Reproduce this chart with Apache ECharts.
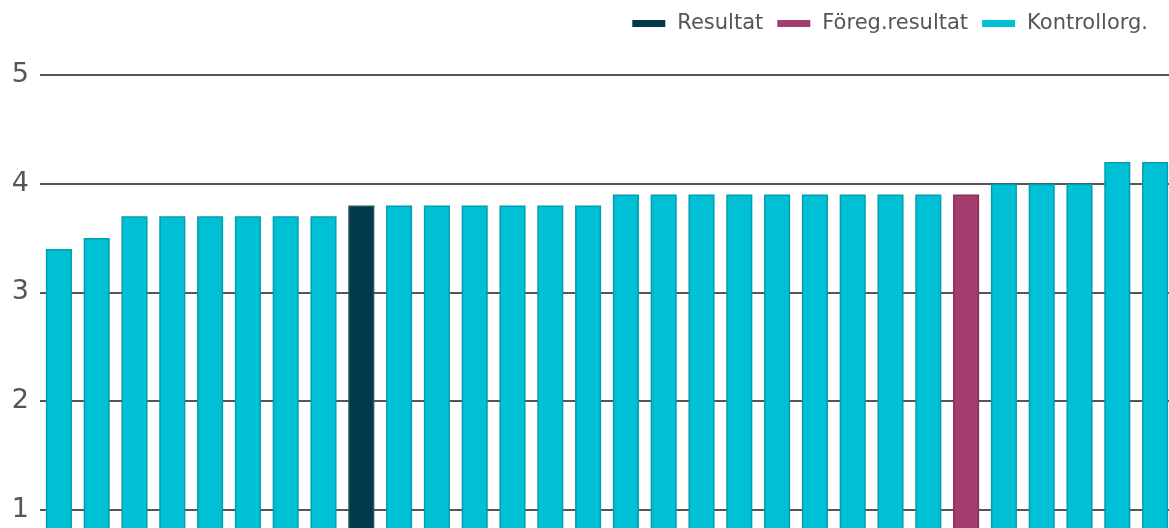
<!DOCTYPE html>
<html>
<head>
<meta charset="utf-8">
<script src="https://cdn.jsdelivr.net/npm/echarts@6/dist/echarts.min.js"></script>
<style>
  html, body { margin: 0; padding: 0; background: #fff; overflow: hidden; }
  #chart { width: 1174px; height: 632px; }
</style>
</head>
<body>
<div id="chart"></div>
<script>
// values per organisation, sorted
var values = [3.4, 3.5, 3.7, 3.7, 3.7, 3.7, 3.7, 3.7, 3.8, 3.8, 3.8, 3.8, 3.8, 3.8, 3.8,
  3.9, 3.9, 3.9, 3.9, 3.9, 3.9, 3.9, 3.9, 3.9, 3.9, 4.0, 4.0, 4.0, 4.2, 4.2]
var categories = values.map(function(v, i) { return 'Org ' + (i + 1) })
var resultIndex = 8 // Resultat
var prevIndex = 24 // Föreg.resultat
var seriesNames = ['Resultat', 'Föreg.resultat', 'Kontrollorg.']
var yTicks = [0, 1, 2, 3, 4, 5]

function pick(fn) {
  return values.map(function(v, i) { return fn(i) ? v : '-' })
}

// chart is bigger than the window, the part below 1 and the right edge are cut off like in the original
var chart = echarts.init(document.getElementById('chart'))
var option = {
  animation: false,
  textStyle: { fontFamily: 'DejaVu Sans' },
  legend: {
    right: 21,
    top: 8,
    icon: 'rect',
    itemWidth: 33,
    itemHeight: 7,
    itemGap: 14,
    itemStyle: { borderWidth: 0 },
    textStyle: { color: '#555', fontSize: 21, fontFamily: 'DejaVu Sans', padding: [0, 0, 0, 7] },
    data: seriesNames
  },
  grid: {
    left: 40,
    right: 0,
    top: 75,
    bottom: 2
  },
  xAxis: {
    type: 'category',
    data: categories,
    axisLine: { show: false },
    axisTick: { show: false },
    axisLabel: { show: false }
  },
  yAxis: {
    type: 'value',
    min: yTicks[0],
    max: yTicks[yTicks.length - 1],
    interval: 1,
    axisLine: { show: false },
    axisTick: { show: false },
    axisLabel: { color: '#555', fontSize: 27, margin: 11, fontFamily: 'DejaVu Sans' },
    splitLine: { lineStyle: { color: '#555', width: 2 } }
  },
  series: [
    {
      name: seriesNames[0],
      type: 'bar',
      barWidth: '69%',
      barGap: '-100%',
      data: pick(function(i) { return i === resultIndex }),
      itemStyle: { color: '#003A4A', borderColor: '#2a5360', borderWidth: 1.5 }
    },
    {
      name: seriesNames[1],
      type: 'bar',
      barWidth: '69%',
      barGap: '-100%',
      data: pick(function(i) { return i === prevIndex }),
      itemStyle: { color: '#A63D6F', borderColor: '#86305b', borderWidth: 1.5 }
    },
    {
      name: seriesNames[2],
      type: 'bar',
      barWidth: '69%',
      barGap: '-100%',
      data: pick(function(i) { return i !== resultIndex && i !== prevIndex }),
      itemStyle: { color: '#00C0D6', borderColor: '#009FAF', borderWidth: 1.5 }
    }
  ]
}
chart.setOption(option)
</script>
</body>
</html>
